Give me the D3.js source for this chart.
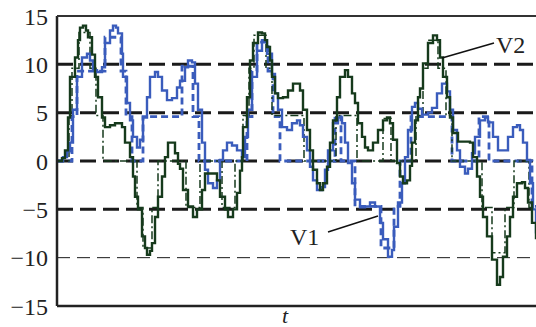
<!DOCTYPE html>
<html>
<head>
<meta charset="utf-8">
<script src="https://cdn.jsdelivr.net/npm/d3@7"></script>
<style>
  body { margin: 0; background: #fff; }
  svg { display: block; }
</style>
</head>
<body>
<div id="chart"></div>
<script>
// time axis has no units, t runs over the visible window
const tEnd = 479

// V1 (blue)
const t1 = [0, 6, 10, 13, 16, 20, 25, 30, 33, 36, 40, 45, 48, 53, 56, 59, 61, 65, 66, 70, 73, 76, 80, 83, 86, 90, 93, 98, 101, 105, 110, 115, 120, 123, 128, 131, 135, 138, 141, 145, 148, 151, 156, 160, 163, 166, 170, 175, 180, 185, 188, 191, 195, 200, 205, 210, 215, 218, 221, 225, 230, 235, 240, 243, 246, 250, 253, 256, 260, 265, 268, 271, 276, 281, 285, 288, 291, 295, 298, 303, 308, 313, 318, 323, 326, 331, 335, 337, 341, 345, 348, 351, 355, 358, 361, 365, 371, 375, 380, 385, 390, 393, 396, 400, 403, 408, 411, 415, 418, 423, 428, 431, 436, 441, 446, 451, 456, 460, 463, 466, 470, 473, 476, 479]
const v1 = [0, 0.4, 1, 1.9, 5.3, 8.7, 10.7, 11.1, 10.4, 9.4, 9.2, 9.7, 12.2, 13.5, 14, 13.8, 13.2, 11.1, 8.7, 6, 4.2, 2.5, 1.4, 2.2, 4.5, 6.6, 8.7, 9.2, 8.7, 7.3, 6.3, 6.5, 7.6, 8.3, 9.7, 10.4, 10.2, 8, 5.3, 1.9, -0.9, -2.3, -2.8, -2, 0.1, 1.1, 1.9, 1.6, 1.1, 0.4, 2.5, 5.3, 8.7, 11.4, 12.5, 11.1, 9, 7, 5.3, 3.5, 3.2, 3.9, 4.2, 3.7, 2.5, 1.1, -0.6, -2, -3, -2.7, -0.9, 1.1, 3.9, 4.5, 3.9, 1.9, -0.2, -2.3, -4, -4.8, -4.7, -4.3, -4.7, -6.4, -8.1, -9.9, -9.2, -6.8, -4.3, -2.3, 0.4, 3.2, 5.6, 6, 5.4, 4.8, 5, 5.5, 7, 8, 7.2, 5.3, 3.2, 1.1, -0.6, -1.3, -0.8, 0.8, 2.5, 4.2, 4.5, 4, 2.5, 1.1, 1.1, 2.5, 3.5, 3.7, 3.2, 1.9, 0.1, -2.3, -5, -7.5]

// V2 (dark green)
const t2 = [0, 5, 8, 11, 13, 18, 21, 23, 26, 29, 31, 35, 38, 41, 45, 48, 53, 58, 61, 65, 68, 73, 76, 78, 81, 85, 88, 90, 93, 95, 98, 101, 105, 108, 111, 115, 118, 121, 123, 126, 131, 136, 140, 145, 148, 151, 156, 160, 163, 168, 171, 176, 180, 183, 185, 186, 190, 193, 196, 201, 205, 208, 210, 213, 215, 218, 221, 226, 231, 236, 239, 243, 246, 250, 253, 256, 260, 263, 266, 270, 273, 276, 280, 283, 288, 291, 295, 298, 301, 305, 308, 311, 316, 321, 326, 330, 333, 336, 340, 343, 346, 350, 353, 355, 358, 361, 363, 366, 371, 376, 380, 383, 386, 390, 393, 396, 401, 406, 413, 416, 420, 423, 426, 430, 435, 440, 443, 446, 450, 453, 456, 460, 465, 468, 471, 475, 479]
const v2 = [0, 0.3, 1.1, 4.5, 8.7, 10.7, 12.5, 13.8, 14, 13.5, 12.8, 11, 8.7, 6.6, 4.5, 3.5, 3.7, 3.9, 3.9, 3.5, 1.9, 0.4, -1.6, -3.7, -5, -7.8, -9, -9.7, -9.3, -8.5, -5.8, -3.7, -1.6, 0.4, 1.9, 1.9, 0.8, -0.3, -0.8, -3, -4.7, -5.8, -5, -3, -1.3, -1.3, -1.3, -2, -3.7, -5, -5.8, -5, -3.3, -1, 0.4, 3.5, 6.6, 10.4, 12.2, 13.3, 13.2, 12.5, 11.8, 10.4, 8.7, 7, 6.5, 6.6, 7.3, 8, 8, 7.3, 5.3, 3.2, 1.1, -0.9, -2.3, -3, -2.3, -0.6, 1.9, 4.2, 6.6, 8.7, 9.4, 8.7, 7, 6, 3.9, 2.5, 1.4, 1.1, 1.9, 3.2, 4.2, 4.5, 3.9, 2.2, -0.2, -1.6, -2.3, -2, -0.5, 1.9, 4.2, 6.6, 7.5, 10.1, 12.2, 13, 12.5, 10.7, 8.7, 6.6, 4.5, 2.9, 2, 2, 1.9, 0.4, -1.6, -3.7, -5.8, -7.8, -10.2, -12.8, -12, -9.9, -7.8, -5.8, -3.7, -2.3, -2.2, -2.8, -4.3, -6.4, -8.1]

// stepped (quantised) versions: level held from each start time
const q1T = [0, 15, 20, 48, 64, 69, 75, 86, 125, 136, 142, 190, 195, 200, 211, 216, 223, 278, 284, 298, 324, 337, 343, 354, 395, 422, 432, 475]
const q1V = [0, 4.6, 9.3, 12.8, 9.3, 4.6, 0, 4.6, 9.8, 4.6, 0, 4.6, 9.3, 12.3, 9.3, 4.6, 0, 4.6, 0, -4.7, -9, -4.7, 0, 4.6, 0, 4.6, 0, -4.7]
const q2T = [0, 12, 15, 22, 33, 39, 46, 80, 86, 95, 101, 129, 143, 165, 178, 186, 192, 197, 209, 215, 247, 279, 300, 326, 334, 359, 366, 371, 381, 389, 395, 425, 435, 448, 457, 472]
const q2V = [0, 4.7, 9.6, 13.3, 9.6, 4.7, 0, -4.8, -9, -4.8, 0, -4.8, 0, -4.8, 0, 4.7, 9.6, 13, 9.6, 4.7, 0, 4.7, 0, 4.4, 0, 4.7, 9.6, 12.5, 9.6, 4.7, 0, -4.8, -9.5, -4.8, 0, -4.8]

const yTicks = [15, 10, 5, 0, -5, -10, -15]
const boldLevels = [10, 5, 0, -5]
const thinLevels = [-10]

const W = 536, H = 327
const margin = { top: 16, right: 0, bottom: 21, left: 57 }

const svg = d3.select('#chart').append('svg')
  .attr('width', W)
  .attr('height', H)

const x = d3.scaleLinear().domain([0, tEnd]).range([margin.left, W - margin.right])
const y = d3.scaleLinear().domain([-15, 15]).range([H - margin.bottom, margin.top])

const blue = '#3a5cbc'
const green = '#163a1c'
const serif = '"Liberation Serif", "Times New Roman", serif'

// reference levels
svg.selectAll('line.bold')
  .data(boldLevels)
  .enter().append('line')
  .attr('x1', x(0)).attr('x2', x(tEnd))
  .attr('y1', d => y(d)).attr('y2', d => y(d))
  .style('stroke', '#1a1a1a')
  .style('stroke-width', 3)
  .style('stroke-dasharray', '16,7')

svg.selectAll('line.thin')
  .data(thinLevels)
  .enter().append('line')
  .attr('x1', x(0)).attr('x2', x(tEnd))
  .attr('y1', d => y(d)).attr('y2', d => y(d))
  .style('stroke', '#1a1a1a')
  .style('stroke-width', 1)
  .style('stroke-dasharray', '13,7')

const stepLine = d3.line()
  .x(d => x(d[0]))
  .y(d => y(d[1]))
  .curve(d3.curveStepAfter)

function withEnd(ts, vs) {
  const pts = ts.map((t, i) => [t, vs[i]])
  pts.push([tEnd, vs[vs.length - 1]])
  return pts
}

// quantised traces
svg.append('path')
  .datum(withEnd(q1T, q1V))
  .attr('d', stepLine)
  .style('fill', 'none')
  .style('stroke', blue)
  .style('stroke-width', 2.8)
  .style('stroke-dasharray', '7,4')

svg.append('path')
  .datum(withEnd(q2T, q2V))
  .attr('d', stepLine)
  .style('fill', 'none')
  .style('stroke', green)
  .style('stroke-width', 1.5)
  .style('stroke-dasharray', '8,3,2,3')

// continuous traces
svg.append('path')
  .datum(t1.map((t, i) => [t, v1[i]]))
  .attr('d', stepLine)
  .style('fill', 'none')
  .style('stroke', blue)
  .style('stroke-width', 2.4)

svg.append('path')
  .datum(t2.map((t, i) => [t, v2[i]]))
  .attr('d', stepLine)
  .style('fill', 'none')
  .style('stroke', green)
  .style('stroke-width', 2.4)

// frame
svg.append('line')
  .attr('x1', x(0)).attr('x2', x(0))
  .attr('y1', y(15)).attr('y2', y(-15))
  .style('stroke', '#222').style('stroke-width', 2.5)
svg.append('line')
  .attr('x1', x(0)).attr('x2', W)
  .attr('y1', y(15)).attr('y2', y(15))
  .style('stroke', '#333').style('stroke-width', 2)
svg.append('line')
  .attr('x1', x(0)).attr('x2', W)
  .attr('y1', y(-15)).attr('y2', y(-15))
  .style('stroke', '#222').style('stroke-width', 2.5)

// tick labels
svg.selectAll('text.tick')
  .data(yTicks)
  .enter().append('text')
  .attr('x', 48)
  .attr('y', d => y(d))
  .attr('dy', '0.36em')
  .attr('text-anchor', 'end')
  .style('font-family', serif)
  .style('font-size', '24px')
  .style('fill', '#222')
  .text(d => d < 0 ? '\u2212' + Math.abs(d) : d)

// axis title
svg.append('text')
  .attr('x', 285)
  .attr('y', 323)
  .attr('text-anchor', 'middle')
  .style('font-family', serif)
  .style('font-style', 'italic')
  .style('font-size', '22px')
  .style('fill', '#222')
  .text('t')

// series labels with leaders
svg.append('line')
  .attr('x1', 442).attr('y1', 58).attr('x2', 494).attr('y2', 43)
  .style('stroke', '#111').style('stroke-width', 1.5)
svg.append('text')
  .attr('x', 496).attr('y', 53)
  .style('font-family', serif)
  .style('font-size', '24px')
  .style('fill', '#222')
  .text('V2')

svg.append('line')
  .attr('x1', 328).attr('y1', 232).attr('x2', 378).attr('y2', 216)
  .style('stroke', '#111').style('stroke-width', 1.5)
svg.append('text')
  .attr('x', 290).attr('y', 245)
  .style('font-family', serif)
  .style('font-size', '24px')
  .style('fill', '#222')
  .text('V1')
</script>
</body>
</html>
